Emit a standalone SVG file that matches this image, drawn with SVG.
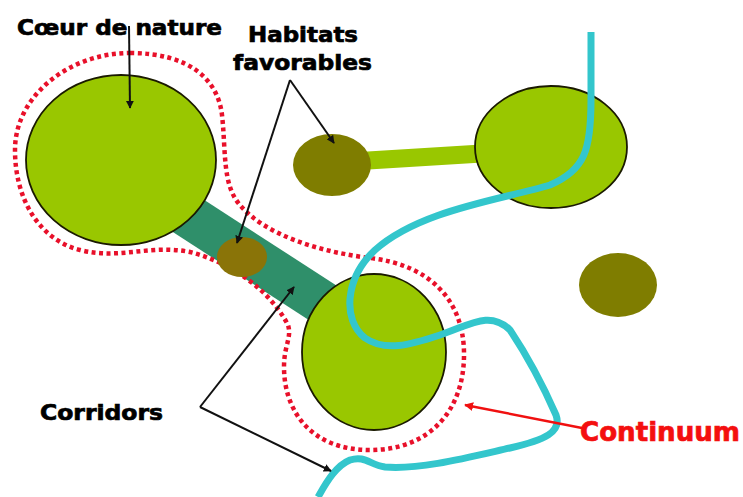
<svg xmlns="http://www.w3.org/2000/svg" width="743" height="497" viewBox="0 0 743 497">
<style>
.lbl{font-family:"DejaVu Sans","Verdana",sans-serif;font-weight:bold;font-size:21px;fill:#000;stroke:#000;stroke-width:0.7}
.core{fill:#99c700;stroke:#1a1a00;stroke-width:1.8}
.hab{fill:#7f7d00}
.ptr{stroke:#111;stroke-width:2;fill:none}
</style>
<defs>
<marker id="ah" viewBox="0 0 10 10" refX="9" refY="5" markerWidth="8" markerHeight="8" markerUnits="userSpaceOnUse" orient="auto"><path d="M0,0 L10,5 L0,10 z" fill="#111"/></marker>
<marker id="ahr" viewBox="0 0 10 10" refX="9" refY="5" markerWidth="9" markerHeight="9" markerUnits="userSpaceOnUse" orient="auto"><path d="M0,0 L10,5 L0,10 z" fill="#f01010"/></marker>
</defs>
<rect width="743" height="497" fill="#fff"/>
<g id="corridor-dark">
<line x1="150" y1="191" x2="360" y2="327" stroke="#2f8f6a" stroke-width="44"/>
</g>
<g id="corridor-light">
<line x1="360" y1="161" x2="490" y2="153" stroke="#99c700" stroke-width="18"/>
</g>
<g id="continuum-outline">
<path d="M130,53 C190,53 218,80 222,115 C226,150 222,185 240,205 C265,235 320,252 370,258 C430,265 463,300 464,352 C465,410 430,450 370,450 C310,450 284,410 284,367 C284,345 292,338 288,325 C270,290 230,262 190,252 C150,244 120,260 80,250 C40,240 15,200 15,150 C15,95 70,53 130,53 Z" fill="none" stroke="#e8102a" stroke-width="4.5" stroke-dasharray="4 3.5"/>
</g>
<g id="coeur-1"><ellipse class="core" cx="121" cy="160" rx="95" ry="85"/></g>
<g id="coeur-2"><ellipse class="core" cx="374" cy="352" rx="72" ry="78"/></g>
<g id="coeur-3"><ellipse class="core" cx="551" cy="147" rx="76" ry="61"/></g>
<g id="habitat-1"><ellipse class="hab" cx="332" cy="165" rx="39" ry="31"/></g>
<g id="habitat-2"><ellipse class="hab" cx="618" cy="285" rx="39" ry="32"/></g>
<g id="habitat-3"><ellipse cx="242" cy="257" rx="25" ry="20" fill="#8a7408"/></g>
<g id="riviere">
<path d="M591,32 L591,100 C591,150 585,170 550,185 C500,200 420,210 375,250 C345,278 342,320 365,338 C385,352 410,345 440,335 C470,325 490,310 510,330 C530,360 545,390 556,415 C562,432 545,440 510,448 C470,457 420,470 385,467 C370,465 365,455 350,460 C335,466 325,485 318,497" fill="none" stroke="#33c6cc" stroke-width="7" stroke-linejoin="round"/>
</g>
<g id="connectors">
<line class="ptr" x1="129" y1="26" x2="130" y2="108" marker-end="url(#ah)"/>
<line class="ptr" x1="290" y1="80" x2="334" y2="143" marker-end="url(#ah)"/>
<line class="ptr" x1="290" y1="80" x2="237" y2="243" marker-end="url(#ah)"/>
<line class="ptr" x1="200" y1="407" x2="294" y2="287" marker-end="url(#ah)"/>
<line class="ptr" x1="200" y1="407" x2="331" y2="471" marker-end="url(#ah)"/>
<line x1="582" y1="428" x2="465" y2="405" stroke="#f01010" stroke-width="2.5" marker-end="url(#ahr)"/>
</g>
<g id="labels">
<text class="lbl" x="17" y="35" textLength="205" lengthAdjust="spacingAndGlyphs">Cœur de nature</text>
<text class="lbl" x="248" y="42" textLength="110" lengthAdjust="spacingAndGlyphs">Habitats</text>
<text class="lbl" x="233" y="70" textLength="139" lengthAdjust="spacingAndGlyphs">favorables</text>
<text class="lbl" x="40" y="420" textLength="123" lengthAdjust="spacingAndGlyphs">Corridors</text>
<text class="lbl" x="580" y="441" textLength="160" lengthAdjust="spacingAndGlyphs" style="font-size:26px;fill:#f40f0f;stroke:#f40f0f">Continuum</text>
</g>
</svg>
